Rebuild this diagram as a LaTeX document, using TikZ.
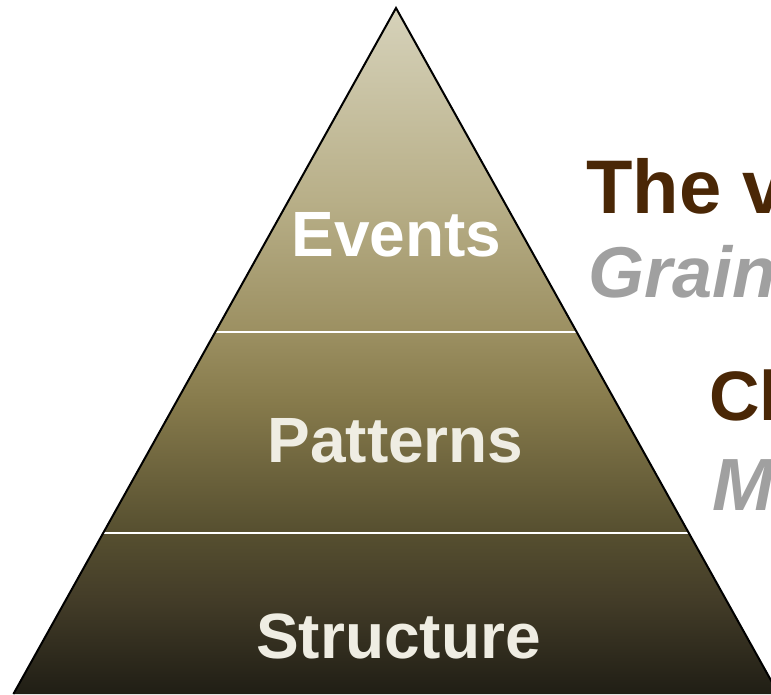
\documentclass[tikz,border=0pt]{standalone}
\usepackage{fontspec}
\setmainfont{Liberation Sans}
\usetikzlibrary{calc}

% colours of the pyramid, top to bottom
\definecolor{fadeA}{HTML}{D6D2BA}
\definecolor{fadeB}{HTML}{B8AF88}
\definecolor{fadeC}{HTML}{9C9062}
\definecolor{fadeD}{HTML}{877B4C}
\definecolor{fadeE}{HTML}{575030}
\definecolor{fadeF}{HTML}{433C28}
\definecolor{fadeG}{HTML}{201E15}
\definecolor{headbrown}{HTML}{4A2706}
\definecolor{subgray}{HTML}{A0A0A0}
\definecolor{layertext}{HTML}{EFEDE3}

\pgfdeclareverticalshading{pyramidfade}{100bp}{color(0bp)=(fadeG); color(25bp)=(fadeG);
  color(31.9bp)=(fadeF); color(37bp)=(fadeE); color(46.4bp)=(fadeD);
  color(51.5bp)=(fadeC); color(61bp)=(fadeB); color(75bp)=(fadeA); color(100bp)=(fadeA)}

\begin{document}
\begin{tikzpicture}[x=1pt,y=-1pt,
    layer/.style={font=\fontsize{64}{70}\selectfont\bfseries, anchor=base, inner sep=0pt},
    head/.style={font=\fontsize{76}{80}\selectfont\bfseries, text=headbrown, anchor=base west, inner sep=0pt},
    sub/.style={font=\fontsize{72}{76}\selectfont\bfseries\itshape, text=subgray, anchor=base west, inner sep=0pt}]
    \useasboundingbox (0,0) rectangle (771,694);
    \clip (0,0) rectangle (771,694);

    % Corners of the pyramid
    \coordinate (apex) at (396,8);
    \coordinate (baseL) at (13.4,694);
    \coordinate (baseR) at (778.6,694);

    % Shaded body
    \shade[shading=pyramidfade] (apex) -- (baseR) -- (baseL) -- cycle;

    % Dividers between the layers
    \coordinate (cutAL) at ($(apex)!0.4723!(baseL)$);
    \coordinate (cutAR) at ($(apex)!0.4723!(baseR)$);
    \coordinate (cutBL) at ($(apex)!0.7653!(baseL)$);
    \coordinate (cutBR) at ($(apex)!0.7653!(baseR)$);
    \draw[white,line width=2pt] (cutAL) -- (cutAR);
    \draw[white,line width=2pt] (cutBL) -- (cutBR);

    % Outline
    \draw[black,line width=2pt] (baseL) -- (apex) -- (baseR);

    % Layer names
    \node[layer,text=white] (events) at (396.5,256) {Events};
    \node[layer,text=layertext] (patterns) at (395.5,462) {Patterns};
    \node[layer,text=layertext] (structure) at (398.5,658) {Structure};

    % Text on the right
    \node[head] (topline) at (586,213) {The v};
    \node[sub] (topsub) at (588,297) {Grain};
    \node[head,font=\fontsize{70}{74}\selectfont\bfseries] (midline) at (709,420) {Cl};
    \node[sub,font=\fontsize{74}{78}\selectfont\bfseries\itshape] (midsub) at (712,510) {M};
\end{tikzpicture}
\end{document}
